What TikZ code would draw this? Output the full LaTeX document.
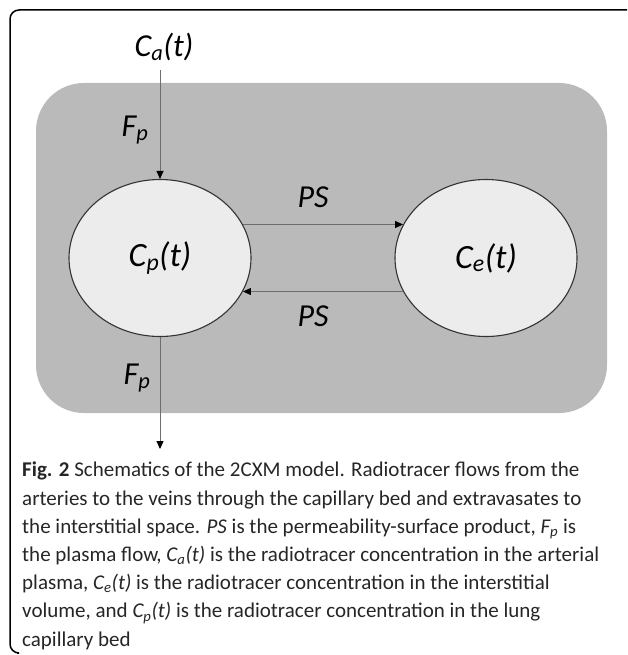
\documentclass[tikz,border=0pt]{standalone}
\usepackage{fontspec}
\setmainfont{Carlito}
\usepackage{xcolor}
\usetikzlibrary{arrows.meta,shapes,calc,positioning}
\definecolor{boxgray}{HTML}{BABABA}
\definecolor{cellgray}{HTML}{ECECEC}
\definecolor{flowgray}{HTML}{6E6E6E}
\tikzset{
	compartment/.style={ellipse, draw=black!80, line width=1.1pt, fill=cellgray,
		minimum width=182pt, minimum height=157pt, inner sep=0pt,
		font={\fontsize{34}{40}\selectfont\itshape}},
	rate/.style={font={\fontsize{32}{38}\selectfont\itshape}},
	flow/.style={draw=flowgray, line width=1pt, -{Triangle[length=8pt,width=7pt,color=black]}}
}
\begin{document}
\begin{tikzpicture}[x=1pt,y=-1pt]
	\useasboundingbox (0,0) rectangle (627,655);
	% Frame round the figure
	\draw[line width=1.5pt, rounded corners=9pt] (627,10) -- (10,10) -- (10,653) -- (17,653);
	
	% Tissue (grey background)
	\fill[boxgray, rounded corners=48pt] (36,83) rectangle (607,413);
	
	% Plasma and interstitial compartments
	\node[compartment] (cp) at (160,258) {C\textsubscript{p}(t)};
	\node[compartment] (ce) at (486,258) {C\textsubscript{e}(t)};
	
	% Inflow and outflow
	\node[rate] (ca) at (164,47) {C\textsubscript{a}(t)};
	\coordinate (vein) at (160,449);
	\draw[flow] (ca.south -| cp.north) ++(0,6) -- (cp.north);
	\draw[flow] (cp.south) -- (vein);
	\node[rate] (fpin) at (135,130) {F\textsubscript{p}};
	\node[rate] (fpout) at (137,378) {F\textsubscript{p}};
	
	% Exchange between the compartments
	\draw[flow] (cp.22) -- (ce.158);
	\draw[flow] (ce.202) -- (cp.-22);
	\node[rate] (psup) at (313,197) {PS};
	\node[rate] (psdown) at (313,316) {PS};
	
	% Caption
	\node[anchor=north west, align=left, inner sep=0pt, text=black!85,
		font={\fontsize{21}{28.2}\selectfont}] (caption) at (22,462)
		{\textbf{Fig. 2} Schematics of the 2CXM model. Radiotracer flows from the\\
		arteries to the veins through the capillary bed and extravasates to\\
		the interstitial space. \textit{PS} is the permeability-surface product, \textit{F\textsubscript{p}} is\\
		the plasma flow, \textit{C\textsubscript{a}(t)} is the radiotracer concentration in the arterial\\
		plasma, \textit{C\textsubscript{e}(t)} is the radiotracer concentration in the interstitial\\
		volume, and \textit{C\textsubscript{p}(t)} is the radiotracer concentration in the lung\\
		capillary bed};
\end{tikzpicture}
\end{document}
